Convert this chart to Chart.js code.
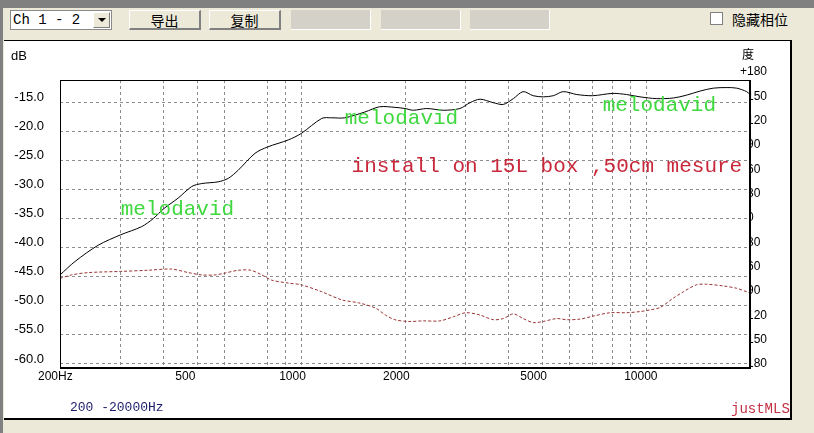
<!DOCTYPE html>
<html>
<head>
<meta charset="utf-8">
<script src="https://cdn.jsdelivr.net/npm/chart.js@4.4.1/dist/chart.umd.min.js"></script>
<style>
  html, body { margin: 0; padding: 0; }
  body { width: 814px; height: 433px; background: #ece9d8; position: relative; overflow: hidden; font-family: "Noto Sans CJK SC", sans-serif; }
  #topbar { position: absolute; left: 0; top: 0; width: 814px; height: 8px; background: #808080; }
  #leftbar { position: absolute; left: 0; top: 0; width: 3px; height: 433px; background: #808080; }
  .combo { position: absolute; left: 10px; top: 10px; width: 98px; height: 18px; background: #fff; border: 1px solid #8a8a8a; font: 14px "Liberation Mono", monospace; line-height: 18px; padding-left: 2px; box-sizing: content-box; }
  .combo .arrow { position: absolute; right: 1px; top: 1px; width: 17px; height: 16px; background: #ece9d8; border-left: 1px solid #fff; border-top: 1px solid #fff; border-right: 1px solid #808080; border-bottom: 1px solid #808080; box-sizing: border-box; }
  .combo .arrow:after { content: ""; position: absolute; left: 4px; top: 5px; border-left: 4px solid transparent; border-right: 4px solid transparent; border-top: 4px solid #000; }
  .btn { position: absolute; top: 10px; height: 20px; background: #ece9d8; border-left: 1px solid #fff; border-top: 1px solid #fff; border-right: 2px solid #808080; border-bottom: 2px solid #808080; font-size: 14px; line-height: 19px; text-align: center; box-sizing: border-box; color: #000; }
  .field { position: absolute; top: 10px; height: 20px; background: #d4d1c9; border-right: 1px solid #fff; border-bottom: 1px solid #fff; box-sizing: border-box; }
  .check { position: absolute; left: 710px; top: 12px; width: 13px; height: 13px; background: #fff; border: 1px solid #808080; box-sizing: border-box; }
  .checklabel { position: absolute; left: 732px; top: 9px; font-size: 14px; line-height: 20px; color: #000; }
  #panel { position: absolute; left: 4px; top: 40px; width: 786px; height: 377px; background: #fff; border-top: 1px solid #000; border-right: 2px solid #000; border-bottom: 2px solid #000; }
  #panel canvas { position: absolute; left: 0; top: 0; }
</style>
</head>
<body>
<div id="topbar"></div>
<div id="leftbar"></div>
<div class="combo">Ch 1 - 2<div class="arrow"></div></div>
<div class="btn" style="left:129px;width:72px;">导出</div>
<div class="btn" style="left:209px;width:72px;">复制</div>
<div class="field" style="left:291px;width:80px;"></div>
<div class="field" style="left:381px;width:80px;"></div>
<div class="field" style="left:470px;width:80px;"></div>
<div class="check"></div>
<div class="checklabel">隐藏相位</div>
<div id="panel"><canvas id="fr" width="786" height="377"></canvas></div>

<script>
// frequency response (black, solid)
const magFreq = [200, 221, 258, 300, 345, 373, 400, 440, 482, 515,
  575, 615, 657, 735, 800, 918, 1000, 1148, 1227, 1338,
  1530, 1688, 1870, 2000, 2113, 2313, 2583, 2886, 3086, 3300,
  3606, 3855, 4120, 4400, 4706, 5034, 5380, 5750, 6300, 7000,
  8000, 8780, 9600, 10720, 11980, 13100, 14340, 15660, 17130, 18300,
  19560, 20000];
const magDb = [-44.7, -42.4, -39.6, -37.8, -36.4, -35.0, -33.3, -31.5, -29.5, -29.0,
  -28.7, -28.1, -26.7, -23.8, -22.7, -21.5, -20.4, -17.8, -17.7, -17.7,
  -16.7, -15.8, -15.9, -16.1, -16.4, -16.1, -16.4, -16.1, -15.1, -14.5,
  -15.1, -15.4, -14.4, -13.2, -13.9, -14.1, -13.9, -13.2, -13.7, -13.9,
  -13.5, -13.7, -14.1, -14.4, -14.3, -13.8, -13.1, -12.6, -12.5, -12.6,
  -13.2, -13.7];

// second trace (dark red, dashed)
const redFreq = [200, 216, 242, 300, 360, 421, 471, 515, 563, 600,
  657, 715, 769, 822, 918, 1000, 1148, 1313, 1467, 1643,
  1755, 1870, 2046, 2260, 2526, 2761, 3000, 3300, 3606, 3855,
  4120, 4400, 4706, 5034, 5506, 5880, 6430, 7000, 7860, 8780,
  9600, 10290, 10980, 11980, 12820, 14000, 14980, 16740, 18300, 19560,
  20000];
const redDb = [-45.3, -44.7, -44.3, -44.1, -43.9, -43.7, -44.3, -44.7, -44.7, -44.4,
  -43.9, -43.9, -44.7, -45.6, -46.1, -46.4, -47.6, -49.0, -49.5, -50.4,
  -51.6, -52.4, -52.7, -52.6, -52.6, -51.9, -51.2, -51.6, -52.4, -52.2,
  -51.4, -52.2, -52.9, -52.7, -52.2, -52.4, -52.3, -51.8, -51.2, -51.2,
  -51.0, -50.7, -50.3, -48.7, -47.6, -46.4, -46.3, -46.6, -47.0, -47.6,
  -47.8];

// axes
const xGrid = [200, 300, 400, 500, 600, 800, 900, 1000,
  2000, 3000, 4000, 5000, 6000, 7000, 8000, 9000, 10000, 20000];
const xLabels = { 200: '200Hz', 500: '500', 1000: '1000', 2000: '2000', 5000: '5000', 10000: '10000' };
const yTicks = [-60, -55, -50, -45, -40, -35, -30, -25, -20, -15];
const phaseTicks = ['+180', '150', '120', '90', '60', '30', '0', '-30', '-60', '-90', '-120', '-150', '-180'];

// text written on the plot: [text, freq, dB of baseline, colour]
const notes = [
  ['melodavid', 300, -34.4, '#3fd83f'],
  ['melodavid', 1338, -18.8, '#3fd83f'],
  ['melodavid', 7480, -16.5, '#3fd83f'],
  ['install on 15L box ,50cm mesure', 1400, -27.0, '#c8283a']
];

const toPoints = (xs, ys) => xs.map((x, i) => ({ x: x, y: ys[i] }));

const decor = {
  id: 'decor',
  afterDraw(chart) {
    const ctx = chart.ctx;
    const a = chart.chartArea;
    const xs = chart.scales.x, ys = chart.scales.y;

    // annotations
    ctx.save();
    ctx.font = '21px "Liberation Mono", monospace';
    ctx.textBaseline = 'alphabetic';
    ctx.textAlign = 'left';
    notes.forEach(n => {
      ctx.fillStyle = n[3];
      ctx.fillText(n[0], xs.getPixelForValue(n[1]), ys.getPixelForValue(n[2]));
    });
    ctx.restore();

    // frame
    ctx.save();
    ctx.fillStyle = '#000';
    ctx.fillRect(a.left, a.top, a.right - a.left, 1);
    ctx.fillRect(a.left, a.top, 1, a.bottom - a.top);
    ctx.fillRect(a.right - 1, a.top, 2, a.bottom - a.top + 1);
    ctx.fillRect(a.left, a.bottom - 1, a.right - a.left + 1, 2);
    ctx.restore();

    // phase scale on the right, partly hidden behind the plot frame
    ctx.save();
    ctx.font = '12px "Liberation Sans", Arial, sans-serif';
    ctx.fillStyle = '#000';
    ctx.textBaseline = 'middle';
    ctx.textAlign = 'left';
    const pTop = a.top - 8;
    const pStep = (a.bottom - 4 - pTop) / (phaseTicks.length - 1);
    ctx.fillText(phaseTicks[0], a.right - 10, pTop);
    ctx.beginPath();
    ctx.rect(a.right + 1, a.top, 60, a.bottom - a.top + 10);
    ctx.clip();
    for (let i = 1; i < phaseTicks.length; i++) {
      const t = phaseTicks[i];
      const x = t.startsWith('-') ? a.right - 7 : a.right - 3;
      ctx.fillText(t, x, pTop + i * pStep);
    }
    ctx.restore();

    ctx.save();
    ctx.fillStyle = '#000';
    ctx.textBaseline = 'middle';
    ctx.font = '12px "Noto Sans CJK SC", sans-serif';
    ctx.fillText('度', a.right - 8, 13);
    ctx.font = '13px "Liberation Sans", Arial, sans-serif';
    ctx.fillText('dB', 7, 15);
    ctx.font = '13px "Liberation Mono", monospace';
    ctx.fillStyle = '#1c1c6a';
    ctx.fillText('200 -20000Hz', 66, 367);
    ctx.font = '14px "Liberation Mono", monospace';
    ctx.fillStyle = '#c43044';
    ctx.fillText('justMLS', 727, 368);
    ctx.restore();
  }
};

new Chart(document.getElementById('fr'), {
  type: 'line',
  data: {
    datasets: [
      {
        data: toPoints(magFreq, magDb),
        borderColor: '#000',
        borderWidth: 1,
        tension: 0.3,
        pointRadius: 0
      },
      {
        data: toPoints(redFreq, redDb),
        borderColor: '#9a3232',
        borderWidth: 1,
        borderDash: [3, 2],
        tension: 0.3,
        pointRadius: 0
      }
    ]
  },
  options: {
    responsive: false,
    animation: false,
    devicePixelRatio: 1,
    layout: { padding: { top: 39, right: 40, bottom: 30, left: 0 } },
    plugins: { legend: { display: false }, tooltip: { enabled: false } },
    scales: {
      x: {
        type: 'logarithmic',
        min: 200,
        max: 20000,
        afterBuildTicks: s => { s.ticks = xGrid.map(v => ({ value: v })); },
        afterFit: s => { s.height = 20; },
        grid: { color: '#8c8c8c', drawTicks: false },
        border: { display: false, dash: [3, 3] },
        ticks: {
          autoSkip: false,
          maxRotation: 0,
          align: 'start',
          labelOffset: -22,
          padding: 1,
          color: '#000',
          font: { family: '"Liberation Sans", Arial, sans-serif', size: 12 },
          callback: v => xLabels[v] || ''
        }
      },
      y: {
        min: -60.7,
        max: -11.2,
        afterBuildTicks: s => { s.ticks = yTicks.map(v => ({ value: v })); },
        afterFit: s => { s.width = 56; },
        grid: { color: '#8c8c8c', drawTicks: false },
        border: { display: false, dash: [3, 3] },
        ticks: {
          padding: 16,
          labelOffset: -5,
          color: '#000',
          font: { family: '"Liberation Sans", Arial, sans-serif', size: 13 },
          callback: v => v.toFixed(1)
        }
      }
    }
  },
  plugins: [decor]
});
</script>
</body>
</html>
